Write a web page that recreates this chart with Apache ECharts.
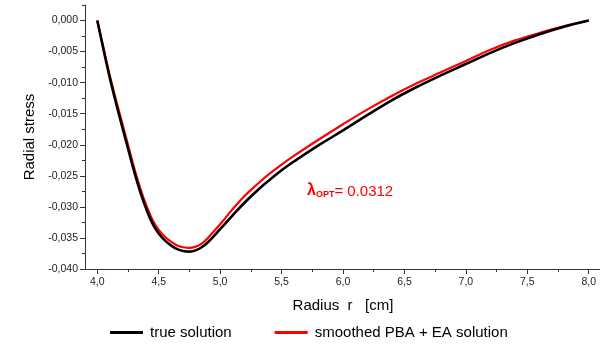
<!DOCTYPE html>
<html>
<head>
<meta charset="utf-8">
<script src="https://cdn.jsdelivr.net/npm/echarts@6/dist/echarts.min.js"></script>
<style>html,body{margin:0;padding:0;background:#fff}#c{width:600px;height:345px}</style>
</head>
<body>
<div id="c"></div>
<script>
const radius = [4.0, 4.05, 4.1, 4.15, 4.2, 4.25, 4.3, 4.35, 4.4, 4.45, 4.5, 4.55, 4.6, 4.65, 4.7, 4.75, 4.8, 4.85, 4.9, 5.0, 5.1, 5.2, 5.3, 5.4, 5.5, 5.6, 5.8, 6.0, 6.2, 6.4, 6.6, 6.8, 7.0, 7.2, 7.4, 7.6, 7.8, 8.0];
const trueStress = [0, -0.0046, -0.0091, -0.0131, -0.0169, -0.0206, -0.0243, -0.0276, -0.0304, -0.0327, -0.0343, -0.0354, -0.0362, -0.0368, -0.0371, -0.0372, -0.0370, -0.0365, -0.0357, -0.0336, -0.0314, -0.0293, -0.0274, -0.0257, -0.0241, -0.0227, -0.0201, -0.0177, -0.0152, -0.0128, -0.0107, -0.0088, -0.0070, -0.0052, -0.0036, -0.0022, -0.0010, 0];
const pbaStress = [0, -0.0044, -0.0087, -0.0126, -0.0163, -0.0200, -0.0237, -0.0270, -0.0298, -0.0321, -0.0337, -0.0348, -0.0356, -0.0362, -0.0365, -0.0366, -0.0364, -0.0359, -0.0350, -0.0328, -0.0304, -0.0282, -0.0264, -0.0247, -0.0232, -0.0218, -0.0192, -0.0167, -0.0143, -0.0121, -0.0101, -0.0083, -0.0065, -0.0047, -0.0032, -0.0020, -0.0009, 0];
const xMajorTicks = [4.0, 4.5, 5.0, 5.5, 6.0, 6.5, 7.0, 7.5, 8.0];
const xMinorTicks = [4.0, 4.25, 4.5, 4.75, 5.0, 5.25, 5.5, 5.75, 6.0, 6.25, 6.5, 6.75, 7.0, 7.25, 7.5, 7.75, 8.0];
const yMajorTicks = [-0.040, -0.035, -0.030, -0.025, -0.020, -0.015, -0.010, -0.005, 0.000];
const seriesNames = ['true solution', 'smoothed PBA + EA solution'];

const FONT = '"Liberation Sans", Arial, sans-serif';
const AX = '#333';
const fmt = (d) => (v) => { let s = Math.abs(v) < 1e-9 ? (0).toFixed(d) : v.toFixed(d); return s.replace('.', ','); };

const chart = echarts.init(document.getElementById('c'), null, {renderer: 'canvas'});
chart.setOption({
  animation: false,
  backgroundColor: '#fff',
  textStyle: {fontFamily: FONT},
  grid: {left: 85, right: -1, top: 5, bottom: 76, containLabel: false, outerBoundsMode: 'none'},
  legend: {
    data: seriesNames,
    icon: 'rect',
    left: 110, top: 325, padding: 0,
    itemWidth: 33, itemHeight: 3, itemGap: 43,
    textStyle: {fontFamily: FONT, fontSize: 15, color: '#000', padding: [0, 0, 0, 2]}
  },
  xAxis: [{
    type: 'value', min: 3.9, max: 8.1, position: 'bottom',
    axisLine: {show: true, onZero: false, lineStyle: {color: AX, width: 1}},
    axisTick: {show: true, length: 3, customValues: xMinorTicks, lineStyle: {color: AX}},
    axisLabel: {customValues: xMajorTicks, formatter: fmt(1), margin: 8, fontSize: 10.5, color: '#222', fontFamily: FONT},
    splitLine: {show: false},
    name: 'Radius  r   [cm]', nameLocation: 'middle', nameGap: 29,
    nameTextStyle: {fontSize: 15, color: '#000', fontFamily: FONT}
  }, {
    type: 'value', min: 3.9, max: 8.1, position: 'bottom', gridIndex: 0,
    axisLine: {show: false, onZero: false},
    axisTick: {show: true, length: 5, customValues: xMajorTicks, lineStyle: {color: AX}},
    axisLabel: {show: false}, splitLine: {show: false}
  }],
  yAxis: [{
    type: 'value', min: -0.04, max: 0.0025, interval: 0.0025, position: 'left',
    axisLine: {show: true, onZero: false, lineStyle: {color: AX, width: 1}},
    axisTick: {show: true, length: 3, lineStyle: {color: AX}},
    axisLabel: {customValues: yMajorTicks, formatter: fmt(3), margin: 7, fontSize: 10.5, color: '#222', fontFamily: FONT},
    splitLine: {show: false},
    name: 'Radial stress', nameLocation: 'middle', nameGap: 46,
    nameTextStyle: {fontSize: 15, color: '#000', fontFamily: FONT}
  }, {
    type: 'value', min: -0.04, max: 0.0025, position: 'left', gridIndex: 0,
    axisLine: {show: false, onZero: false},
    axisTick: {show: true, length: 5, customValues: yMajorTicks, lineStyle: {color: AX}},
    axisLabel: {show: false}, splitLine: {show: false}
  }],
  series: [{
    name: seriesNames[0], type: 'line', xAxisIndex: 0, yAxisIndex: 0,
    data: radius.map((r, i) => [r, trueStress[i]]),
    smooth: 0.4, symbol: 'none', z: 3,
    lineStyle: {color: '#000', width: 2.6}, itemStyle: {color: '#000'}
  }, {
    name: seriesNames[1], type: 'line', xAxisIndex: 0, yAxisIndex: 0,
    data: radius.map((r, i) => [r, pbaStress[i]]),
    smooth: 0.4, symbol: 'none', z: 2,
    lineStyle: {color: '#ff0000', width: 2.2}, itemStyle: {color: '#ff0000'}
  }],
  graphic: [{
    type: 'text', left: 307, top: 183, z: 10,
    style: {
      text: '{l|λ}{s|OPT}{n|= 0.0312}',
      fill: '#ff0000',
      rich: {
        l: {fontSize: 16, fontWeight: 'bold', fill: '#ff0000', fontFamily: FONT, verticalAlign: 'bottom'},
        s: {fontSize: 9, fontWeight: 'bold', fill: '#ff0000', fontFamily: FONT, verticalAlign: 'bottom'},
        n: {fontSize: 15, fill: '#ff0000', fontFamily: FONT, verticalAlign: 'bottom'}
      }
    }
  }]
});
</script>
</body>
</html>
